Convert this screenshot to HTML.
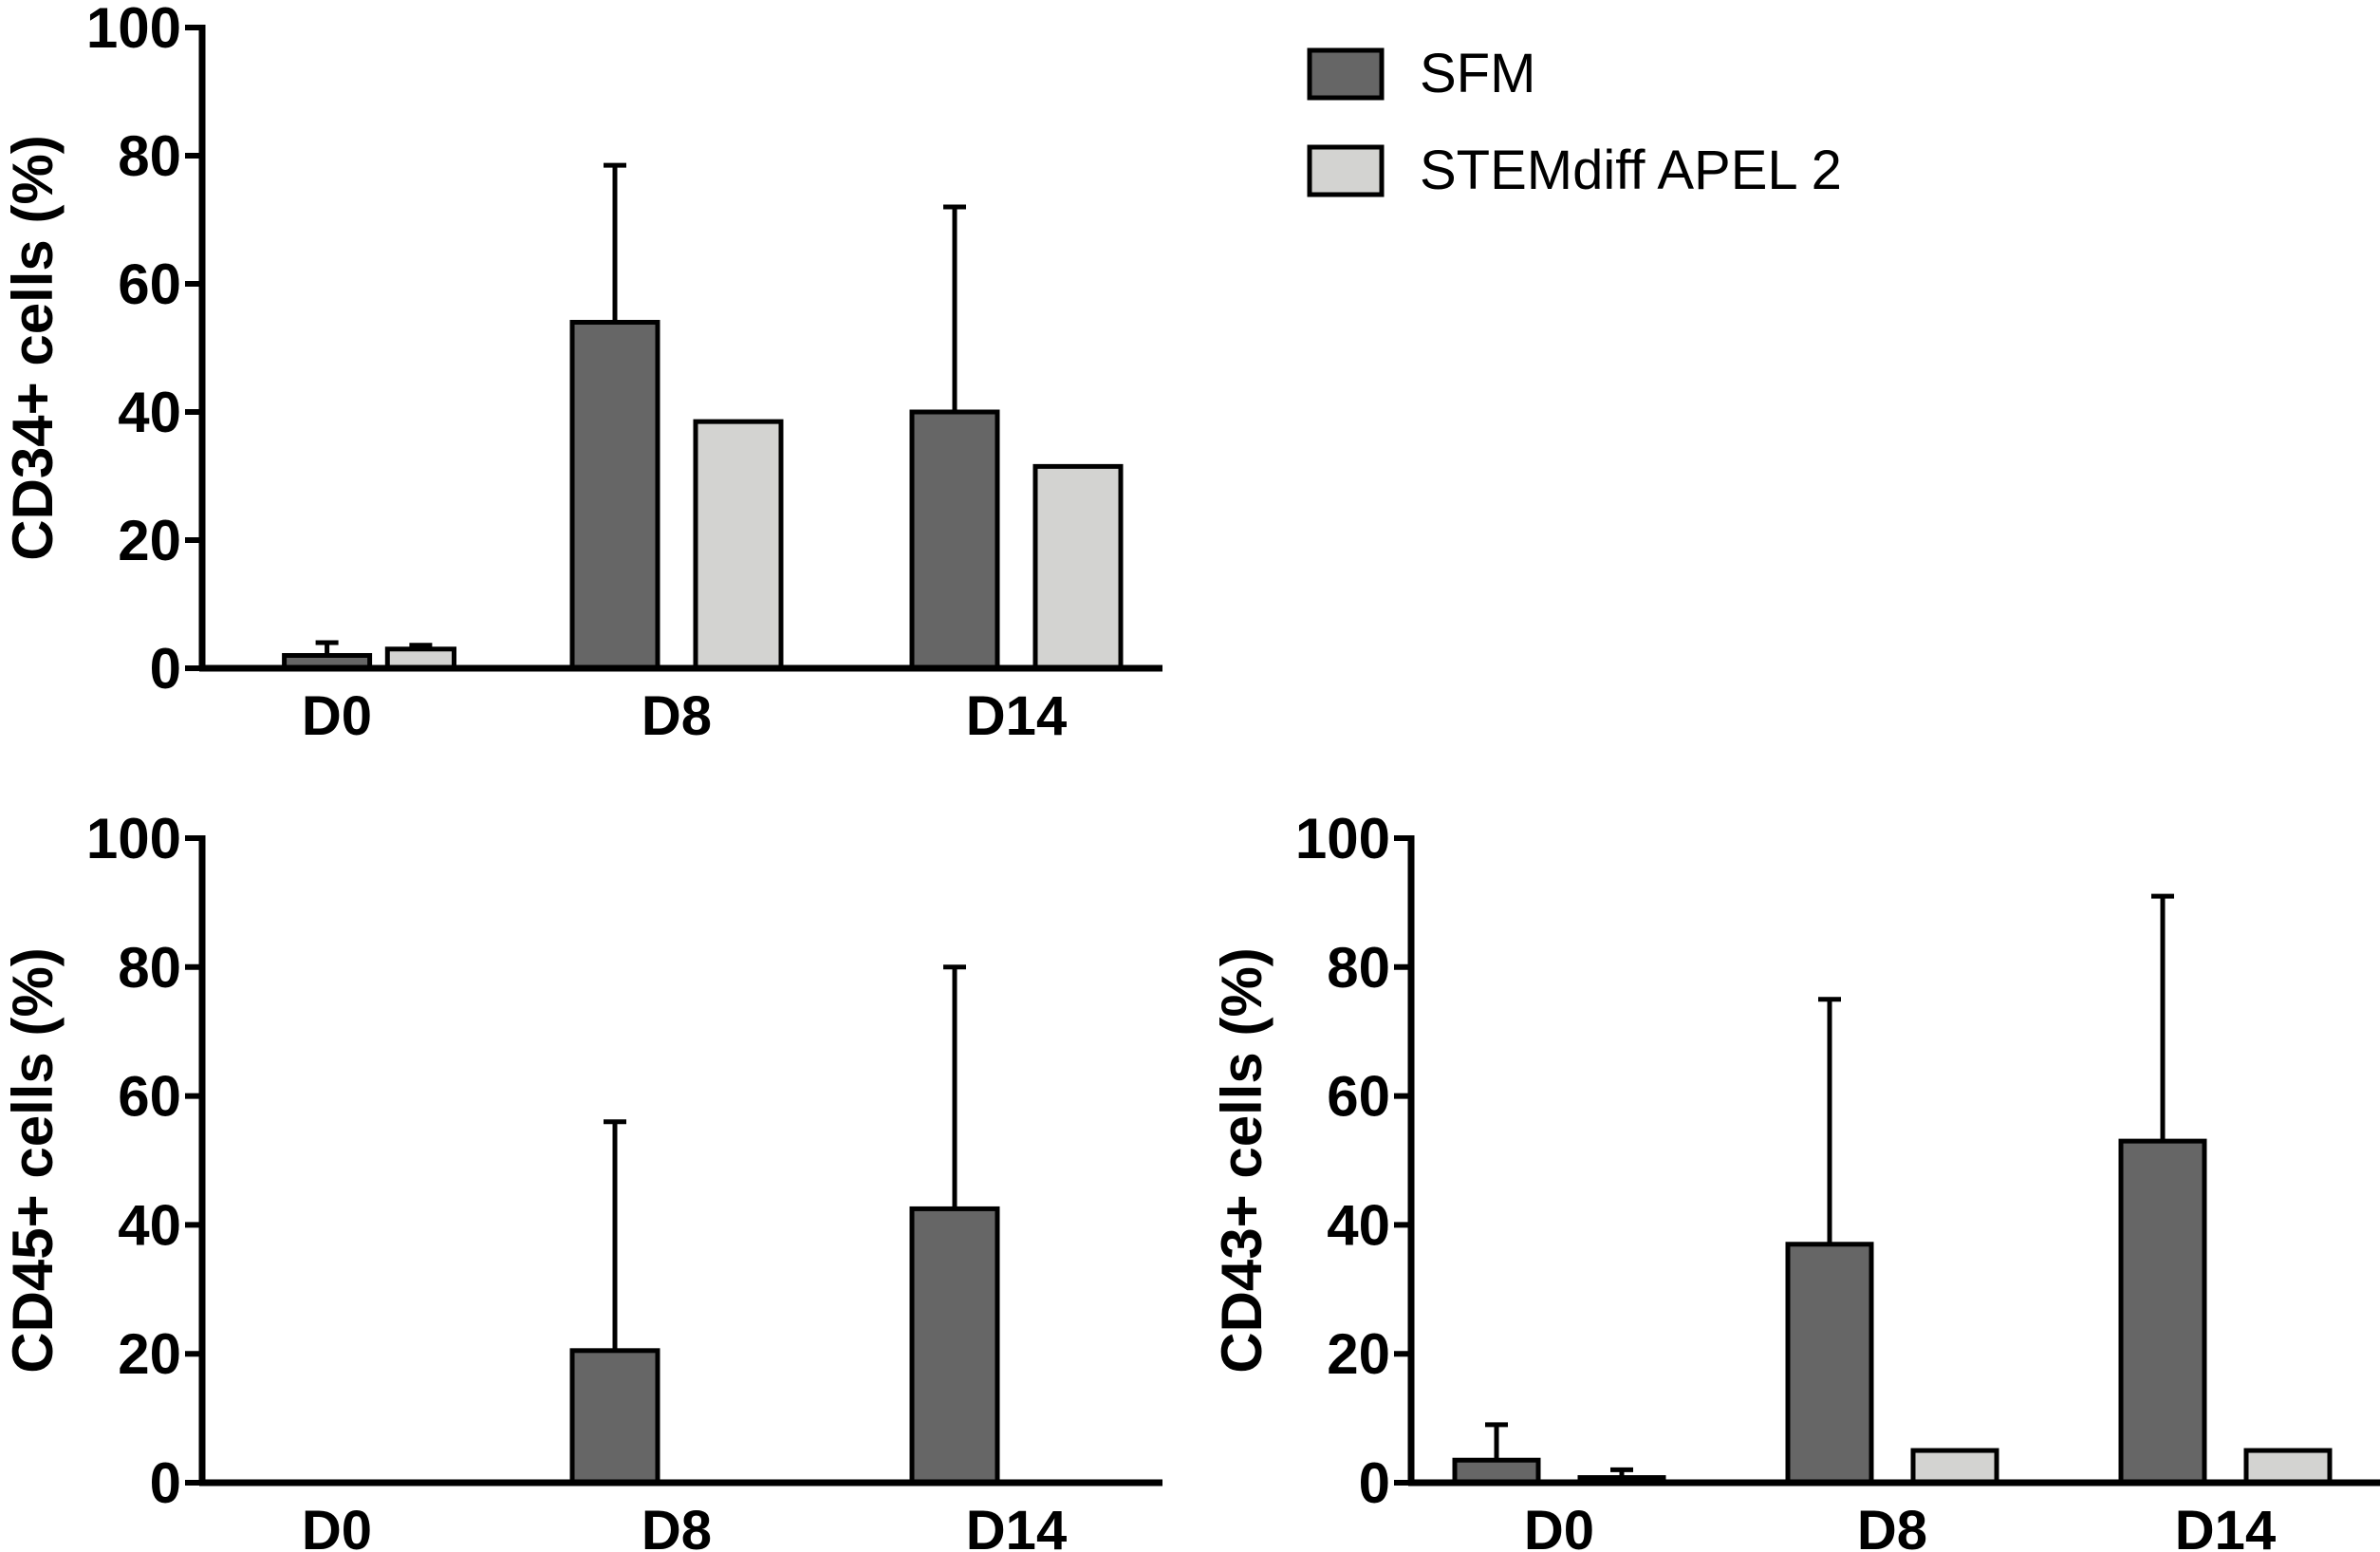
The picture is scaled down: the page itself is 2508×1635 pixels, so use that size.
<!DOCTYPE html>
<html><head><meta charset="utf-8"><style>
body{margin:0;background:#fff}
svg{display:block}
text{font-family:"Liberation Sans",Arial,sans-serif}
</style></head><body>
<svg id="fig" width="2508" height="1635" viewBox="0 0 2508 1635"></svg>
<script>
const categories=["D0","D8","D14"];
const seriesNames=["SFM","STEMdiff APEL 2"];
const yTicks=[0,20,40,60,80,100];
const cd34Sfm=[2,54,40];
const cd34SfmErr=[4,78.5,72];
const cd34Apel=[3,38.5,31.5];
const cd34ApelErr=[3.6,null,null];
const cd45Sfm=[0,20.5,42.5];
const cd45SfmErr=[null,56,80];
const cd45Apel=[0,0,0];
const cd45ApelErr=[null,null,null];
const cd43Sfm=[3.5,37,53];
const cd43SfmErr=[9,75,91];
const cd43Apel=[0.8,5,5];
const cd43ApelErr=[2,null,null];

const NS="http://www.w3.org/2000/svg";
const svg=document.getElementById('fig');
function mk(tag,attrs,parent){const e=document.createElementNS(NS,tag);for(const k in attrs)e.setAttribute(k,attrs[k]);(parent||svg).appendChild(e);return e;}
const colors=["#666666","#d3d3d1"];

function panel(cfg){
  const g=mk('g',{});
  
  
  const y=v=>cfg.y0-(cfg.y0-cfg.y100)*v/100;
  const x=i=>cfg.gx0+i*cfg.gstep;
  [[cfg.s,cfg.se],[cfg.a,cfg.ae]].forEach((sr,si)=>{
    sr[0].forEach((v,i)=>{
      const cx=x(i)+(i===0?cfg.d0shift:0)+(si===0?-cfg.off:cfg.off)*(i===0?cfg.d0scale:1);
      const bw=(i===0&&si===1)?cfg.bw*cfg.d0bw:cfg.bw;
      const top=y(v);
      if(v>0.05){
        const r=mk('rect',{x:cx-bw/2,y:top,width:bw,height:cfg.y0-top,fill:colors[si],stroke:'#000','stroke-width':5},g);
        
        
      }
      const e=sr[1][i];
      if(e!=null){
        const l=mk('path',{d:`M${cx},${top} V${y(e)} M${cx-12},${y(e)} H${cx+12}`,stroke:'#000','stroke-width':5,fill:'none'},g);
        
        
      }
    });
  });
  const ya=mk('line',{x1:cfg.ax,y1:cfg.y100-3,x2:cfg.ax,y2:cfg.y0+3,stroke:'#000','stroke-width':7},g);
  
  
  const xa=mk('line',{x1:cfg.ax-3,y1:cfg.y0,x2:cfg.xend,y2:cfg.y0,stroke:'#000','stroke-width':7},g);
  
  
  yTicks.forEach(t=>{
    mk('line',{x1:cfg.ax-18,y1:y(t),x2:cfg.ax,y2:y(t),stroke:'#000','stroke-width':6},g);
    const tx=mk('text',{x:cfg.ax-22,y:y(t)+21,'text-anchor':'end','font-size':60,'font-weight':'bold'},g);
    tx.textContent=t;
    
    
  });
  categories.forEach((c,i)=>{
    const tx=mk('text',{x:x(i),y:cfg.y0+70,'text-anchor':'middle','font-size':58,'font-weight':'bold'},g);
    tx.textContent=c;
    
    
  });
  const yl=mk('text',{x:0,y:0,'text-anchor':'middle','font-size':60,'font-weight':'bold',transform:`translate(${cfg.ax-158},${(cfg.y0+cfg.y100)/2}) rotate(-90)`},g);
  yl.textContent=cfg.label;
  
  
}
panel({name:'cd34-chart',ax:213,y0:704,y100:29,xend:1225,gx0:355,gstep:358,off:65,bw:90,d0shift:39,d0scale:0.76,d0bw:0.78,s:cd34Sfm,se:cd34SfmErr,a:cd34Apel,ae:cd34ApelErr,label:'CD34+ cells (%)'});
panel({name:'cd45-chart',ax:213,y0:1562,y100:883,xend:1225,gx0:355,gstep:358,off:65,bw:90,d0shift:0,d0scale:1,d0bw:1,s:cd45Sfm,se:cd45SfmErr,a:cd45Apel,ae:cd45ApelErr,label:'CD45+ cells (%)'});
panel({name:'cd43-chart',ax:1487,y0:1562,y100:883,xend:2508,gx0:1643,gstep:351,off:66,bw:88,d0shift:0,d0scale:1,d0bw:1,s:cd43Sfm,se:cd43SfmErr,a:cd43Apel,ae:cd43ApelErr,label:'CD43+ cells (%)'});
seriesNames.forEach((n,i)=>{
  const yy=53+i*102;
  const r=mk('rect',{x:1380,y:yy,width:76,height:50,fill:colors[i],stroke:'#000','stroke-width':5});
  
  
  const t=mk('text',{x:1496,y:yy+44,'font-size':58});
  t.textContent=n;
  
  
});
</script>
</body></html>
